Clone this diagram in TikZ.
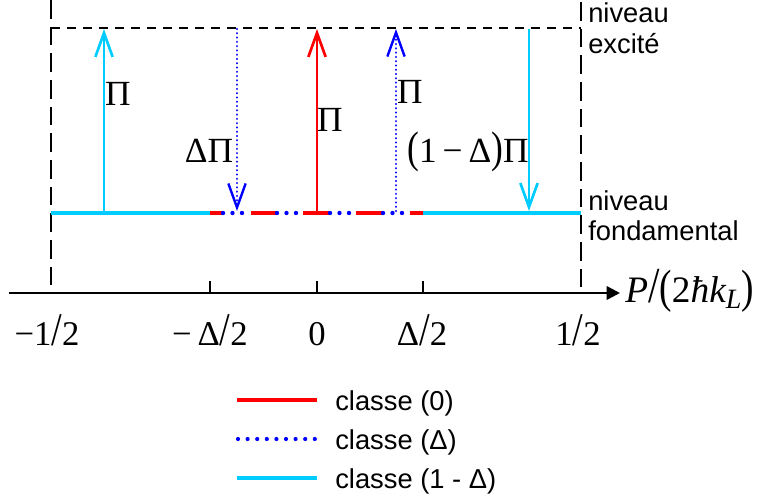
\documentclass[tikz,border=0pt]{standalone}
\usepackage{fontspec}
\usepackage{graphicx}
\setmainfont{Liberation Sans}
\newfontfamily\tnr{Liberation Serif}
\usetikzlibrary{arrows.meta}
\definecolor{cyanc}{RGB}{0,204,255}
\definecolor{redc}{RGB}{255,0,0}
\definecolor{bluec}{RGB}{0,0,255}
\newcommand{\bigsl}{\scalebox{1.1}[1.35]{/}}
\newcommand{\bigpar}[1]{\scalebox{1}[1.25]{#1}}
\tikzset{
  barb/.style={-{Straight Barb[length=18pt,width=13pt]}},
  trans/.style={line width=2pt, barb},
  dottrans/.style={line width=1.8pt, barb, dash pattern=on 0.01pt off 3.2pt, line cap=round},
  ground/.style={line width=3.3pt},
  frameh/.style={line width=1.9pt, dash pattern=on 7pt off 5pt},
  framev/.style={line width=1.9pt, dash pattern=on 14pt off 6pt},
  axisline/.style={line width=1.8pt, -{Triangle[length=10pt,width=10pt]}},
  tickline/.style={line width=1.5pt},
  mathlab/.style={font=\tnr\fontsize{26.5pt}{30pt}\selectfont, inner sep=0pt},
  axlab/.style={font=\tnr\fontsize{26pt}{30pt}\selectfont, inner sep=0pt},
  txt/.style={font=\fontsize{20.5pt}{24pt}\selectfont, inner sep=0pt},
  legline/.style={line width=3.6pt},
}
\begin{document}
\begin{tikzpicture}[x=0.75pt,y=-0.75pt]
\useasboundingbox (0,0) rectangle (761,500);
% frame
\coordinate (L0) at (51,0);
\coordinate (Lax) at (51,293);
\coordinate (R0) at (581,2);
\coordinate (Rax) at (581,293);
\coordinate (TL) at (51,28);
\coordinate (TR) at (581,28);
\draw[framev] (L0) -- (Lax);
\draw[framev] (R0) -- (Rax);
\draw[frameh] (TL) -- (TR);
% axis
\coordinate (ax0) at (9,293);
\coordinate (ax1) at (620,293);
\draw[axisline] (ax0) -- (ax1);
\foreach \x/\n in {210/a,317/b,423/c}{
  \coordinate (tk\n) at (\x,281);
  \coordinate (tb\n) at (\x,293);
  \draw[tickline] (tk\n) -- (tb\n);
}
% ground level
\coordinate (G0) at (51,213);
\coordinate (G1) at (210,213);
\coordinate (G2) at (423,213);
\coordinate (G3) at (581,213);
\draw[ground, cyanc] (G0) -- (G1);
\draw[ground, cyanc] (G2) -- (G3);
\foreach \a/\b in {210/223,251/277,303/330,356/383,410/423}{
  \draw[ground, redc] (\a,213) -- (\b,213);
}
\foreach \s in {223,277,330,383}{
  \foreach \k in {0,9.5,19}{
    \fill[bluec] (\s+\k,213) circle (2.2);
  }
}
% transitions
\coordinate (c1g) at (104,213); \coordinate (c1t) at (104,29);
\coordinate (b1t) at (237,29);  \coordinate (b1g) at (237,211);
\coordinate (r0g) at (317,213); \coordinate (r0t) at (317,29);
\coordinate (b2g) at (396,211); \coordinate (b2t) at (396,29);
\coordinate (c2t) at (529,29);  \coordinate (c2g) at (529,211);
\draw[trans, cyanc] (c1g) -- (c1t);
\draw[dottrans, bluec] (b1t) -- (b1g);
\draw[trans, redc] (r0g) -- (r0t);
\draw[dottrans, bluec] (b2g) -- (b2t);
\draw[trans, cyanc] (c2t) -- (c2g);
% transition labels
\node[mathlab, anchor=base] (pi1) at (118,105) {Π};
\node[mathlab, anchor=base] (dpi) at (209,162) {ΔΠ};
\node[mathlab, anchor=base] (pi0) at (330,131) {Π};
\node[mathlab, anchor=base] (pi2) at (410,103) {Π};
\node[mathlab, anchor=base] (opi) at (468,162) {\bigpar{(}1\,−\,Δ\bigpar{)}Π};
% level names
\node[txt, anchor=base west] (exc1) at (588,22) {niveau};
\node[txt, anchor=base west] (exc2) at (588,53) {excité};
\node[txt, anchor=base west] (fon1) at (588,210) {niveau};
\node[txt, anchor=base west] (fon2) at (588,240) {fondamental};
% axis labels
\node[axlab, anchor=base] (xm1) at (47,345) {−1\bigsl2};
\node[axlab, anchor=base] (xmd) at (210,345) {−\,Δ\bigsl2};
\node[axlab, anchor=base] (x0) at (317,345) {0};
\node[axlab, anchor=base] (xpd) at (422,345) {Δ\bigsl2};
\node[axlab, anchor=base] (xp1) at (578,345) {1\bigsl2};
\node[axlab, anchor=base west, font=\tnr\fontsize{28pt}{32pt}\selectfont] (axname) at (625,302) {\itshape P\/\upshape\bigsl\bigpar{(}2\itshape ħk\raisebox{-0.4ex}{\fontsize{21pt}{24pt}\selectfont L}\upshape\bigpar{)}};
% legend
\coordinate (l1a) at (237,400); \coordinate (l1b) at (317,400);
\coordinate (l3a) at (237,478); \coordinate (l3b) at (317,478);
\draw[legline, redc] (l1a) -- (l1b);
\draw[legline, cyanc] (l3a) -- (l3b);
\foreach \i in {0,...,8}{
  \fill[bluec] (238+\i*9.6,439) circle (2.1);
}
\node[txt, anchor=base west] (leg1) at (335,410) {classe (0)};
\node[txt, anchor=base west] (leg2) at (335,449) {classe (Δ)};
\node[txt, anchor=base west] (leg3) at (335,488) {classe (1 - Δ)};
\end{tikzpicture}
\end{document}
